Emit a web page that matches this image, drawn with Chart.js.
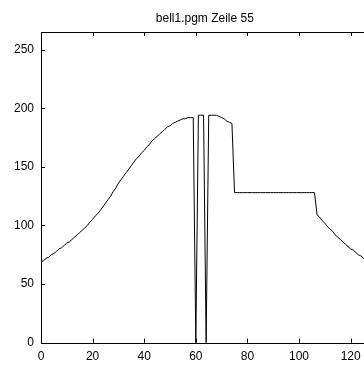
<!DOCTYPE html>
<html>
<head>
<meta charset="utf-8">
<script src="https://cdn.jsdelivr.net/npm/chart.js@4"></script>
<style>
  html, body { margin: 0; padding: 0; background: #fff; overflow: hidden; }
  #wrap { width: 372px; height: 376px; }
</style>
</head>
<body>
<div id="wrap"><canvas id="plot" width="372" height="376"></canvas></div>
<script>
const title = 'bell1.pgm Zeile 55';

// grey values of row 55, one per pixel column 0..127
const rowValues = [
  69, 70, 72, 73, 75, 76, 78, 80, 81, 83,
  85, 86, 88, 90, 92, 94, 96, 98, 100, 103,
  105, 108, 110, 113, 116, 119, 122, 125, 129, 132,
  136, 139, 142, 145, 148, 151, 154, 157, 159, 162,
  164, 167, 169, 172, 174, 176, 178, 180, 182, 184,
  185, 187, 188, 189, 190, 191, 191, 192, 192, 192,
  0, 194, 194, 194, 0, 194, 194, 194, 194, 193,
  192, 191, 189, 188, 187, 128, 128, 128, 128, 128,
  128, 128, 128, 128, 128, 128, 128, 128, 128, 128,
  128, 128, 128, 128, 128, 128, 128, 128, 128, 128,
  128, 128, 128, 128, 128, 128, 128, 109, 107, 104,
  102, 99, 97, 95, 92, 90, 88, 86, 84, 82,
  80, 79, 77, 75, 74, 72, 71, 69
];

const xTicks = [0, 20, 40, 60, 80, 100, 120];
const yTicks = [0, 50, 100, 150, 200, 250];

const xMax = 127;
const yMax = 265;

const points = rowValues.map((v, col) => ({ x: col, y: v }));

// gnuplot-like frame with ticks pointing inwards (mirrored)
const frame = {
  id: 'frame',
  afterDraw(chart) {
    const { ctx, chartArea: a } = chart;
    const xs = chart.scales.x;
    const ys = chart.scales.y;
    const len = 4;
    ctx.save();
    ctx.strokeStyle = '#000';
    ctx.lineWidth = 1;
    ctx.beginPath();
    ctx.rect(Math.round(a.left) + 0.5, Math.round(a.top) + 0.5,
      Math.round(a.right - a.left), Math.round(a.bottom - a.top));
    xs.ticks.forEach((t) => {
      const px = Math.round(xs.getPixelForValue(t.value)) + 0.5;
      ctx.moveTo(px, a.bottom);
      ctx.lineTo(px, a.bottom - len);
      ctx.moveTo(px, a.top);
      ctx.lineTo(px, a.top + len);
    });
    ys.ticks.forEach((t) => {
      const py = Math.round(ys.getPixelForValue(t.value)) + 0.5;
      ctx.moveTo(a.left, py);
      ctx.lineTo(a.left + len, py);
      ctx.moveTo(a.right, py);
      ctx.lineTo(a.right - len, py);
    });
    ctx.stroke();
    ctx.restore();
  },
};

Chart.defaults.font.family = '"Liberation Sans", Arial, Helvetica, sans-serif';
Chart.defaults.font.size = 12;
Chart.defaults.color = '#000';

new Chart(document.getElementById('plot'), {
  type: 'line',
  data: {
    datasets: [
      {
        data: points,
        borderColor: '#000',
        borderWidth: 1,
        pointRadius: 0,
        tension: 0,
        fill: false,
      },
    ],
  },
  options: {
    responsive: false,
    animation: false,
    devicePixelRatio: 1,
    layout: { padding: { top: 0, left: 0, right: 3.3, bottom: 0 } },
    plugins: {
      legend: { display: false },
      tooltip: { enabled: false },
      title: {
        display: true,
        text: title,
        fullSize: false,
        color: '#000',
        font: { size: 12, weight: 'normal' },
        padding: { top: 11, bottom: 6.6 },
      },
    },
    scales: {
      x: {
        type: 'linear',
        min: 0,
        max: xMax,
        grid: { display: false, drawTicks: false },
        border: { display: false },
        afterBuildTicks(scale) {
          scale.ticks = xTicks.map((v) => ({ value: v }));
        },
        afterFit(scale) {
          scale.height = 33.3;
        },
        ticks: { padding: 7, maxRotation: 0, autoSkip: false },
      },
      y: {
        min: 0,
        max: yMax,
        grid: { display: false, drawTicks: false },
        border: { display: false },
        afterBuildTicks(scale) {
          scale.ticks = yTicks.map((v) => ({ value: v }));
        },
        afterFit(scale) {
          scale.width = 41;
        },
        ticks: { padding: 7 },
      },
    },
  },
  plugins: [frame],
});
</script>
</body>
</html>
